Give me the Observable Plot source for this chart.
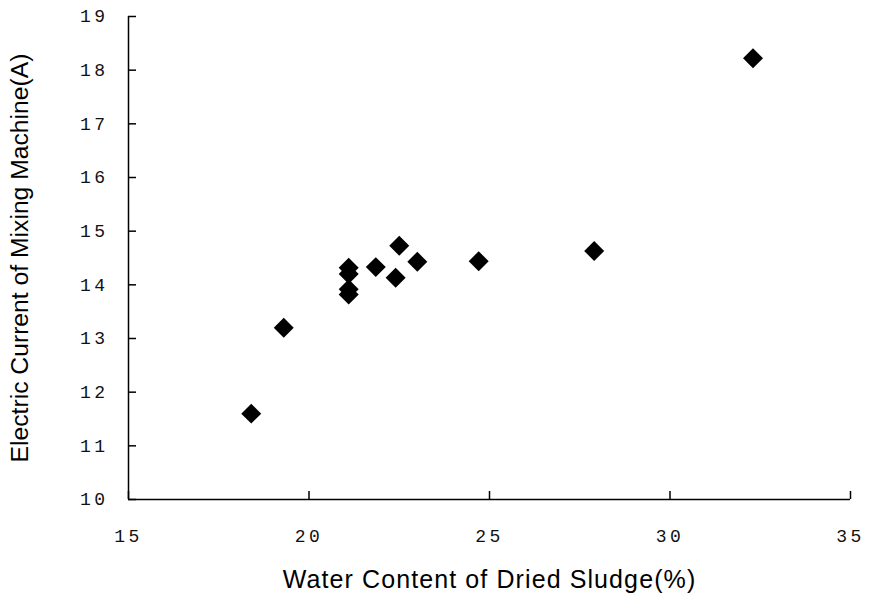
<!DOCTYPE html>
<html><head><meta charset="utf-8">
<script src="https://cdn.jsdelivr.net/npm/d3@7"></script>
<script src="https://cdn.jsdelivr.net/npm/@observablehq/plot@0.6"></script>
<style>
body{margin:0;background:#fff}
g[aria-label="x-axis tick label"] text, g[aria-label="y-axis tick label"] text{font-family:"Liberation Mono",monospace;font-size:18px;letter-spacing:3.5px;fill:#111}
g[aria-label="x-axis label"] text{font-family:"Liberation Sans",Arial,sans-serif;font-size:25px;letter-spacing:1.1px}
g[aria-label="y-axis label"] text{font-family:"Liberation Sans",Arial,sans-serif;font-size:24.7px}
</style>
</head><body><div id="chart"></div>
<script>
const waterContent = [18.4, 19.3, 21.1, 21.1, 21.1, 21.1, 21.85, 22.4, 22.5, 23.0, 24.7, 27.9, 32.3];
const current      = [11.6, 13.2, 14.32, 14.2, 13.92, 13.82, 14.33, 14.13, 14.73, 14.43, 14.44, 14.63, 18.22];
const xTicks = [15, 20, 25, 30, 35];
const yTicks = [10, 11, 12, 13, 14, 15, 16, 17, 18, 19];
const xLabel = "Water Content of Dried Sludge(%)";
const yLabel = "Electric Current of Mixing Machine(A)";

const data = waterContent.map((x, i) => ({x, y: current[i]}));

const chart = Plot.plot({
  width: 872, height: 597,
  marginLeft: 128, marginRight: 22, marginTop: 16, marginBottom: 98,
  x: {domain: [15, 35]},
  y: {domain: [10, 19]},
  marks: [
    Plot.ruleX([15], {stroke: "#000", strokeWidth: 1.5}),
    Plot.ruleY([10], {stroke: "#000", strokeWidth: 1.5}),
    Plot.axisX({ticks: xTicks, tickSize: 8, dy: -8, tickFormat: () => "", label: null, strokeWidth: 1.5}),
    Plot.axisY({ticks: yTicks, tickSize: 8, dx: 8, tickFormat: () => "", label: null, strokeWidth: 1.5}),
    Plot.axisX({ticks: xTicks, tickSize: 0, tickPadding: 30,
      label: xLabel, labelAnchor: "center", labelOffset: 88, labelArrow: "none"}),
    Plot.axisY({ticks: yTicks, tickSize: 0, tickPadding: 20,
      label: yLabel, labelAnchor: "center", labelOffset: 118, labelArrow: "none"}),
    Plot.dot(data, {x: "x", y: "y", symbol: "diamond2", r: 9, fill: "#000", stroke: "none"})
  ]
});
document.getElementById("chart").appendChild(chart);
</script>
</body></html>
